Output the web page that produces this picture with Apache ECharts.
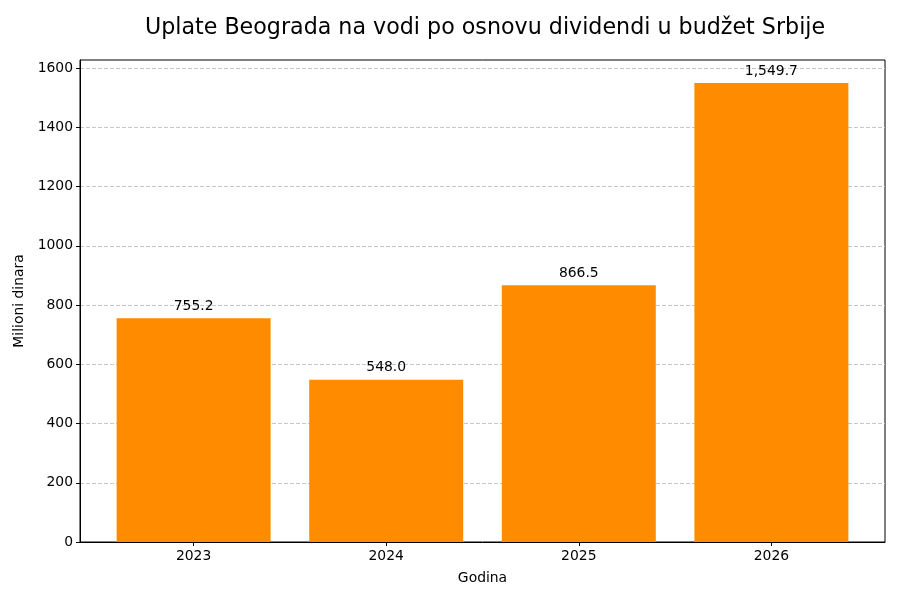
<!DOCTYPE html>
<html>
<head>
<meta charset="utf-8">
<script src="https://cdn.jsdelivr.net/npm/echarts@6/dist/echarts.min.js"></script>
<style>
  html, body { margin: 0; padding: 0; background: #fff; }
  #chart { width: 900px; height: 600px; }
</style>
</head>
<body>
<div id="chart"></div>
<script>
const years = ['2023', '2024', '2025', '2026'];
const values = [755.2, 548.0, 866.5, 1549.7];
const yTicks = [0, 200, 400, 600, 800, 1000, 1200, 1400, 1600];

const font = 'DejaVu Sans';
let myChart = echarts.init(document.getElementById('chart'));

function fmt(v) {
    // 1,549.7 style
    let s = v.toFixed(1).split('.');
    s[0] = s[0].replace(/\B(?=(\d{3})+(?!\d))/g, ',');
    return s.join('.');
}

let option = {
    backgroundColor: '#fff',
    animation: false,
    textStyle: { fontFamily: font },
    title: {
        text: 'Uplate Beograda na vodi po osnovu dividendi u budžet Srbije',
        left: 480,
        textAlign: 'center',
        top: 12,
        textStyle: { fontFamily: font, fontSize: 22.2, fontWeight: 'normal', color: '#000' }
    },
    grid: {
        left: 80, right: 15, top: 60, bottom: 58,
        show: true, borderColor: '#000', borderWidth: 1, backgroundColor: 'transparent'
    },
    xAxis: {
        type: 'value',
        min: -0.59,
        max: 3.59,
        name: 'Godina',
        nameLocation: 'middle',
        nameGap: 29,
        nameTextStyle: { fontFamily: font, fontSize: 13.9, color: '#000' },
        splitLine: { show: false },
        axisLine: { show: true, onZero: false, lineStyle: { color: '#000' } },
        axisTick: { show: true, length: 4, lineStyle: { color: '#000' }, customValues: [0, 1, 2, 3] },
        axisLabel: {
            customValues: [0, 1, 2, 3],
            formatter: v => years[Math.round(v)],
            color: '#000', fontFamily: font, fontSize: 13.9, margin: 7
        }
    },
    yAxis: {
        type: 'value',
        min: 0,
        max: 1627.185,
        interval: 200,
        name: 'Milioni dinara',
        nameLocation: 'middle',
        nameGap: 50,
        nameTextStyle: { fontFamily: font, fontSize: 13.9, color: '#000' },
        axisLine: { show: true, onZero: false, lineStyle: { color: '#000' } },
        axisTick: { show: true, length: 4, lineStyle: { color: '#000' }, customValues: yTicks },
        axisLabel: {
            customValues: yTicks,
            formatter: v => String(v),
            color: '#000', fontFamily: font, fontSize: 13.9, margin: 7
        },
        splitLine: {
            show: true,
            lineStyle: { color: '#c6c6c6', type: [4, 2], width: 1 }
        }
    },
    series: [{
        type: 'bar',
        barWidth: 154,
        itemStyle: { color: '#ff8c00' },
        label: {
            show: true,
            position: 'top',
            distance: 5,
            formatter: p => fmt(p.value[1]),
            color: '#000', fontFamily: font, fontSize: 13.9
        },
        data: values.map((v, i) => [i, v])
    }]
};
myChart.setOption(option);
window.onresize = function () {
    myChart.resize();
};
</script>
</body>
</html>
